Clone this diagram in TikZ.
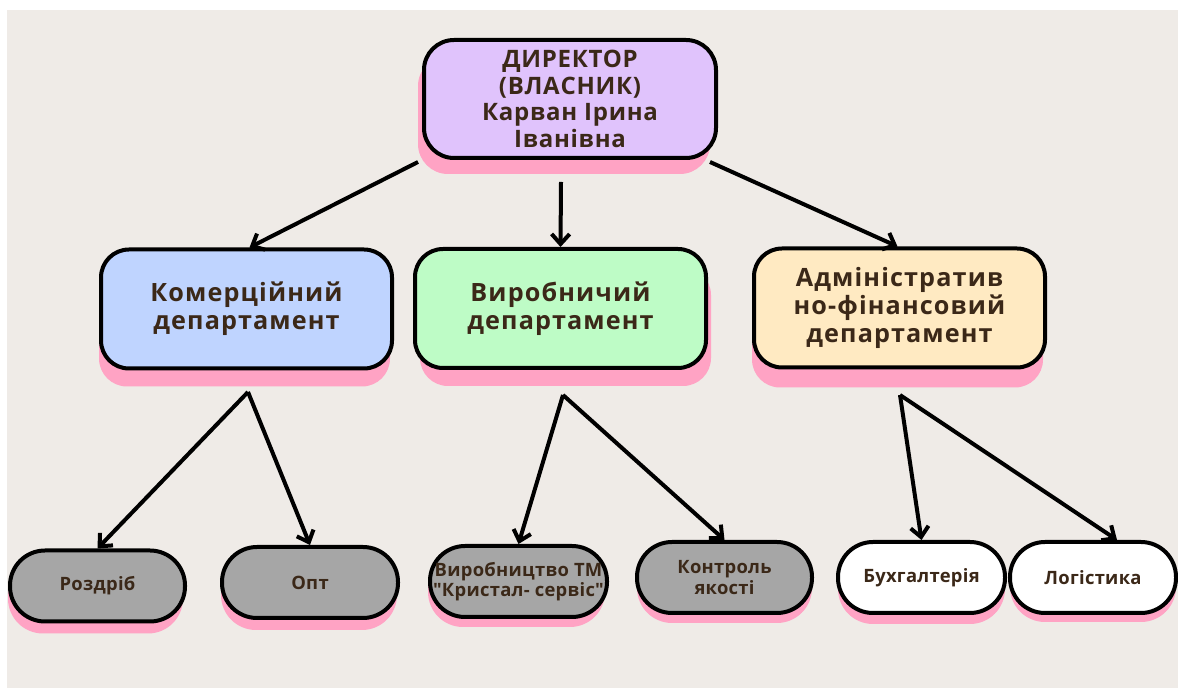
\documentclass[tikz,border=0pt]{standalone}
\usepackage{fontspec}
\newfontfamily\osans{Open Sans}
\newfontfamily\osanstop{Open Sans}[LetterSpace=3]
\newfontfamily\osansdep{Open Sans}[LetterSpace=4.5]
\newfontfamily\osansleaf{Open Sans}[LetterSpace=1.5]
\usetikzlibrary{arrows.meta,shadows,calc}
\definecolor{bg}{RGB}{239,235,231}
\definecolor{txt}{RGB}{59,40,24}
\definecolor{shpink}{RGB}{255,163,196}
\definecolor{lav}{RGB}{224,195,252}
\definecolor{lblue}{RGB}{191,212,255}
\definecolor{lgreen}{RGB}{190,252,198}
\definecolor{lyel}{RGB}{255,234,194}
\definecolor{gr}{RGB}{166,166,166}
\tikzset{
  box/.style={draw=black, line width=2pt, text=txt, align=center, inner sep=0pt},
  topbox/.style={box, rounded corners=15pt, minimum width=146pt, minimum height=59pt,
     font=\osanstop\fontsize{12}{13.3}\selectfont\bfseries},
  depbox/.style={box, rounded corners=14pt, minimum width=145.5pt, minimum height=59.5pt,
     font=\osansdep\fontsize{12.6}{14}\selectfont\bfseries},
  leaf/.style={box, rounded corners=17.5pt, minimum height=35.5pt,
     font=\osansleaf\fontsize{9.2}{8.4}\selectfont\bfseries},
  sh/.style 2 args={general shadow={fill=shpink, shadow xshift=#1, shadow yshift=#2}},
  arr/.style={draw=black, line width=2pt, -{Straight Barb[length=5pt,width=9pt,line width=2pt]}}
}
\begin{document}
\begin{tikzpicture}[x=0.5pt,y=-0.5pt]
\useasboundingbox (0,0) rectangle (1178,688);
\fill[white] (0,0) rectangle (1178,688);
\fill[bg] (7,10) rectangle (1178,688);

\node[topbox, fill=lav, sh={-3pt}{-8pt}] (dir) at (570,99) {ДИРЕКТОР\\(ВЛАСНИК)\\ Карван Ірина\\Іванівна};

\node[depbox, fill=lblue, sh={-1pt}{-9pt}] (kom) at (246.5,309) {Комерційний\\департамент};
\node[depbox, fill=lgreen, sh={2.5pt}{-9pt}] (vir) at (560.5,308.5) {Виробничий\\департамент};
\node[depbox, fill=lyel, sh={-1pt}{-10pt}] (adm) at (899.5,308) {Адміністратив\\но-фінансовий\\департамент};

\node[leaf, fill=gr, minimum width=87.5pt, sh={-1pt}{-6pt}] (roz) at (97.5,586) {Роздріб};
\node[leaf, fill=gr, minimum width=88pt, sh={-0.5pt}{-6pt}] (opt) at (310,582.5) {Опт};
\node[leaf, fill=gr, minimum width=88.5pt, sh={-1pt}{-5pt}] (vyr) at (518.5,581.5) {Виробництво ТМ\\"Кристал- сервіс"};
\node[leaf, fill=gr, minimum width=87.5pt, sh={0pt}{-5pt}] (kon) at (724.5,577.5) {Контроль\\якості};
\node[leaf, fill=white, minimum width=83.5pt, sh={0pt}{-5.5pt}] (buh) at (921.5,577.5) {Бухгалтерія};
\node[leaf, fill=white, minimum width=83pt, sh={0pt}{-4.5pt}] (log) at (1093,577.5) {Логістика};

\coordinate (d1) at (418,162);
\coordinate (d2) at (561,182);
\coordinate (d3) at (710,162);
\coordinate (k0) at (248,392);
\coordinate (v0) at (563,395);
\coordinate (a0) at (900,395);

\draw[arr] (d1) -- ([xshift=1.5pt]kom.north);
\draw[arr] (d2) -- (vir.north);
\draw[arr] (d3) -- ([xshift=-1pt]adm.north);
\draw[arr] (k0) -- (roz.north);
\draw[arr] (k0) -- (opt.north);
\draw[arr] (v0) -- (vyr.north);
\draw[arr] (v0) -- (kon.north);
\draw[arr] (a0) -- (buh.north);
\draw[arr] (a0) -- ([xshift=12pt]log.north);
\end{tikzpicture}
\end{document}
